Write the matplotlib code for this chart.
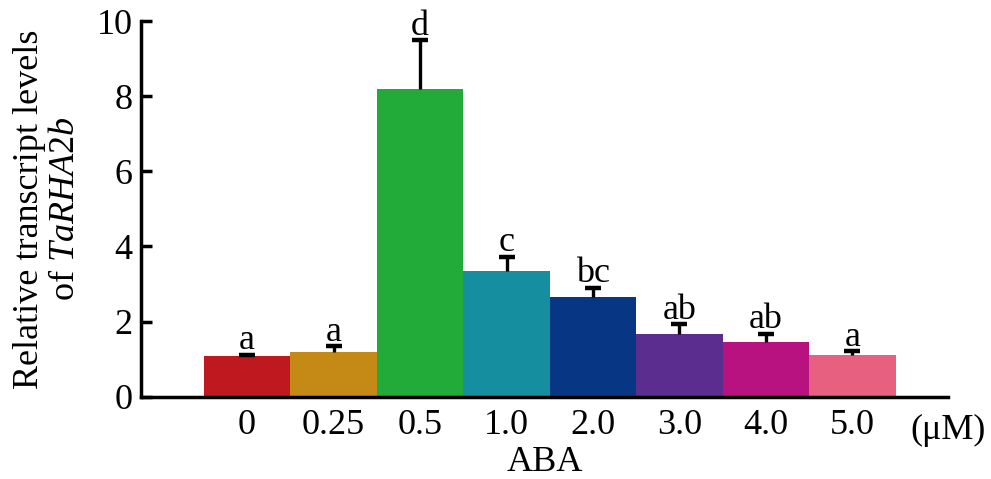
# -*- coding: UTF-8 -*-
# Relative transcript levels of TaRHA2b under ABA treatment
import numpy as np
import matplotlib
matplotlib.use('Agg')
import matplotlib.pyplot as plt

concentrations = ['0', '0.25', '0.5', '1.0', '2.0', '3.0', '4.0', '5.0']
levels = [1.07, 1.19, 8.19, 3.35, 2.65, 1.67, 1.45, 1.11]
errors = [0.04, 0.15, 1.30, 0.37, 0.25, 0.26, 0.23, 0.10]
letters = ['a', 'a', 'd', 'c', 'bc', 'ab', 'ab', 'a']
colors = ['#C0181F', '#C58A16', '#22AB38', '#158FA0',
          '#073784', '#5B2D8E', '#B7127F', '#E8607F']

plt.rcParams['font.family'] = ['Liberation Serif', 'DejaVu Serif']
plt.rcParams['mathtext.fontset'] = 'custom'
plt.rcParams['mathtext.rm'] = 'Liberation Serif'
plt.rcParams['mathtext.it'] = 'Liberation Serif:italic'

fs = 26

fig = plt.figure(figsize=(9.91, 4.79), dpi=100)
ax = fig.add_axes([0.142, 0.172, 0.815, 0.784])

x = np.arange(len(levels))
tops = np.array(levels) + np.array(errors)
ax.bar(x, levels, width=1.0, color=colors, edgecolor='none')
# upper error bars only
ax.vlines(x, levels, tops, color='black', linewidth=2.4)
ax.plot(x, tops, linestyle='none', marker='_', markersize=11,
        markeredgewidth=3.2, color='black')

for xi, t, s in zip(x, tops, letters):
    ax.annotate(s, (xi, t), xytext=(0, 4), textcoords='offset points',
                ha='center', va='baseline', fontsize=fs)

ax.set_xlim(-1.23, 8.11)
ax.set_ylim(0, 10)
ax.set_yticks([0, 2, 4, 6, 8, 10])
ax.set_xticks(x)
ax.set_xticklabels(concentrations)
ax.tick_params(axis='x', length=0, pad=9, labelsize=fs)
ax.tick_params(axis='y', direction='in', length=8, width=2.5, pad=6, labelsize=fs)

ax.spines['top'].set_visible(False)
ax.spines['right'].set_visible(False)
ax.spines['left'].set_linewidth(2.5)
ax.spines['bottom'].set_linewidth(2.5)

ax.text(8.11, -0.045, '(\u03bcM)', transform=ax.get_xaxis_transform(),
        ha='center', va='top', fontsize=fs)
ax.set_xlabel('ABA', fontsize=fs, labelpad=3)
ax.set_ylabel('Relative transcript levels\nof $\\mathit{TaRHA2b}$',
              fontsize=fs, linespacing=1.15, labelpad=10)

fig.savefig('out.png', dpi=100)
